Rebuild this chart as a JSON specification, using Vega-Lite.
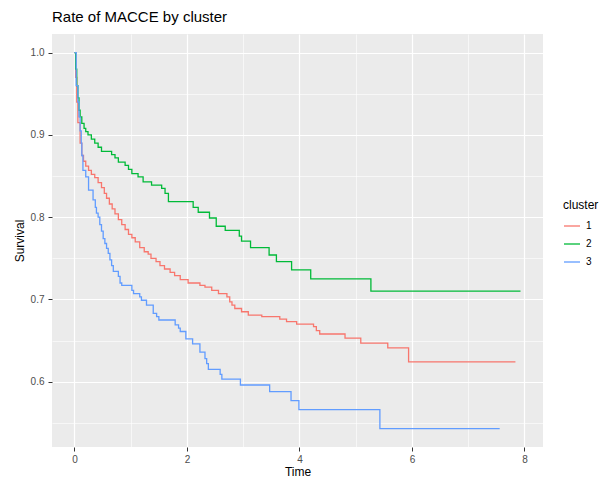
{
"$schema": "https://vega.github.io/schema/vega-lite/v6.json",
"width": 491, "height": 413,
"autosize": {"type": "none"},
"padding": {"left": 52, "top": 34, "right": 56, "bottom": 30},
"background": "white",
"title": {"text": "Rate of MACCE by cluster", "anchor": "start", "frame": "group", "fontSize": 15, "fontWeight": "normal", "font": "Liberation Sans", "color": "black", "offset": 9},
"config": {"view": {"fill": "#EBEBEB", "stroke": null}, "font": "Liberation Sans"},
"datasets": {
"surv": [
{"cluster":"1","time":0,"surv":1.0},{"cluster":"1","time":0.02,"surv":0.97},{"cluster":"1","time":0.04,"surv":0.94},{"cluster":"1","time":0.06,"surv":0.915},{"cluster":"1","time":0.1,"surv":0.89},{"cluster":"1","time":0.13,"surv":0.875},{"cluster":"1","time":0.16,"surv":0.868},{"cluster":"1","time":0.2,"surv":0.862},{"cluster":"1","time":0.25,"surv":0.857},{"cluster":"1","time":0.3,"surv":0.852},{"cluster":"1","time":0.36,"surv":0.848},{"cluster":"1","time":0.42,"surv":0.842},{"cluster":"1","time":0.48,"surv":0.836},{"cluster":"1","time":0.53,"surv":0.829},{"cluster":"1","time":0.57,"surv":0.823},{"cluster":"1","time":0.62,"surv":0.816},{"cluster":"1","time":0.67,"surv":0.81},{"cluster":"1","time":0.72,"surv":0.804},{"cluster":"1","time":0.78,"surv":0.797},{"cluster":"1","time":0.84,"surv":0.791},{"cluster":"1","time":0.9,"surv":0.785},{"cluster":"1","time":0.96,"surv":0.779},{"cluster":"1","time":1.02,"surv":0.775},{"cluster":"1","time":1.08,"surv":0.77},{"cluster":"1","time":1.16,"surv":0.763},{"cluster":"1","time":1.24,"surv":0.758},{"cluster":"1","time":1.31,"surv":0.755},{"cluster":"1","time":1.36,"surv":0.75},{"cluster":"1","time":1.45,"surv":0.746},{"cluster":"1","time":1.52,"surv":0.741},{"cluster":"1","time":1.6,"surv":0.737},{"cluster":"1","time":1.7,"surv":0.733},{"cluster":"1","time":1.78,"surv":0.729},{"cluster":"1","time":1.88,"surv":0.724},{"cluster":"1","time":2.02,"surv":0.72},{"cluster":"1","time":2.23,"surv":0.717},{"cluster":"1","time":2.32,"surv":0.715},{"cluster":"1","time":2.44,"surv":0.711},{"cluster":"1","time":2.56,"surv":0.707},{"cluster":"1","time":2.71,"surv":0.703},{"cluster":"1","time":2.76,"surv":0.697},{"cluster":"1","time":2.8,"surv":0.693},{"cluster":"1","time":2.85,"surv":0.689},{"cluster":"1","time":2.97,"surv":0.685},{"cluster":"1","time":3.09,"surv":0.681},{"cluster":"1","time":3.33,"surv":0.679},{"cluster":"1","time":3.65,"surv":0.676},{"cluster":"1","time":3.77,"surv":0.673},{"cluster":"1","time":3.95,"surv":0.67},{"cluster":"1","time":4.25,"surv":0.667},{"cluster":"1","time":4.3,"surv":0.662},{"cluster":"1","time":4.36,"surv":0.658},{"cluster":"1","time":4.81,"surv":0.653},{"cluster":"1","time":5.09,"surv":0.647},{"cluster":"1","time":5.57,"surv":0.641},{"cluster":"1","time":5.94,"surv":0.624},{"cluster":"1","time":7.84,"surv":0.624},
{"cluster":"2","time":0,"surv":1.0},{"cluster":"2","time":0.02,"surv":0.98},{"cluster":"2","time":0.04,"surv":0.96},{"cluster":"2","time":0.06,"surv":0.945},{"cluster":"2","time":0.08,"surv":0.93},{"cluster":"2","time":0.1,"surv":0.922},{"cluster":"2","time":0.13,"surv":0.914},{"cluster":"2","time":0.17,"surv":0.908},{"cluster":"2","time":0.2,"surv":0.904},{"cluster":"2","time":0.24,"surv":0.9},{"cluster":"2","time":0.3,"surv":0.895},{"cluster":"2","time":0.36,"surv":0.89},{"cluster":"2","time":0.42,"surv":0.885},{"cluster":"2","time":0.48,"surv":0.88},{"cluster":"2","time":0.66,"surv":0.876},{"cluster":"2","time":0.72,"surv":0.872},{"cluster":"2","time":0.78,"surv":0.867},{"cluster":"2","time":0.9,"surv":0.863},{"cluster":"2","time":0.96,"surv":0.858},{"cluster":"2","time":1.02,"surv":0.853},{"cluster":"2","time":1.13,"surv":0.849},{"cluster":"2","time":1.22,"surv":0.843},{"cluster":"2","time":1.37,"surv":0.839},{"cluster":"2","time":1.55,"surv":0.835},{"cluster":"2","time":1.61,"surv":0.829},{"cluster":"2","time":1.67,"surv":0.819},{"cluster":"2","time":2.11,"surv":0.812},{"cluster":"2","time":2.2,"surv":0.806},{"cluster":"2","time":2.4,"surv":0.799},{"cluster":"2","time":2.52,"surv":0.789},{"cluster":"2","time":2.68,"surv":0.784},{"cluster":"2","time":2.93,"surv":0.777},{"cluster":"2","time":2.97,"surv":0.771},{"cluster":"2","time":3.13,"surv":0.763},{"cluster":"2","time":3.46,"surv":0.754},{"cluster":"2","time":3.59,"surv":0.746},{"cluster":"2","time":3.86,"surv":0.736},{"cluster":"2","time":4.2,"surv":0.725},{"cluster":"2","time":5.27,"surv":0.71},{"cluster":"2","time":7.93,"surv":0.71},
{"cluster":"3","time":0,"surv":1.0},{"cluster":"3","time":0.03,"surv":0.96},{"cluster":"3","time":0.06,"surv":0.94},{"cluster":"3","time":0.08,"surv":0.922},{"cluster":"3","time":0.1,"surv":0.905},{"cluster":"3","time":0.12,"surv":0.89},{"cluster":"3","time":0.13,"surv":0.875},{"cluster":"3","time":0.15,"surv":0.857},{"cluster":"3","time":0.2,"surv":0.849},{"cluster":"3","time":0.25,"surv":0.833},{"cluster":"3","time":0.33,"surv":0.821},{"cluster":"3","time":0.37,"surv":0.812},{"cluster":"3","time":0.39,"surv":0.805},{"cluster":"3","time":0.42,"surv":0.8},{"cluster":"3","time":0.45,"surv":0.791},{"cluster":"3","time":0.48,"surv":0.783},{"cluster":"3","time":0.51,"surv":0.774},{"cluster":"3","time":0.54,"surv":0.768},{"cluster":"3","time":0.57,"surv":0.762},{"cluster":"3","time":0.6,"surv":0.756},{"cluster":"3","time":0.63,"surv":0.748},{"cluster":"3","time":0.66,"surv":0.741},{"cluster":"3","time":0.69,"surv":0.734},{"cluster":"3","time":0.78,"surv":0.728},{"cluster":"3","time":0.81,"surv":0.72},{"cluster":"3","time":0.84,"surv":0.717},{"cluster":"3","time":1.02,"surv":0.711},{"cluster":"3","time":1.05,"surv":0.707},{"cluster":"3","time":1.16,"surv":0.703},{"cluster":"3","time":1.19,"surv":0.699},{"cluster":"3","time":1.28,"surv":0.693},{"cluster":"3","time":1.4,"surv":0.683},{"cluster":"3","time":1.46,"surv":0.679},{"cluster":"3","time":1.5,"surv":0.675},{"cluster":"3","time":1.79,"surv":0.669},{"cluster":"3","time":1.85,"surv":0.665},{"cluster":"3","time":1.88,"surv":0.661},{"cluster":"3","time":1.98,"surv":0.652},{"cluster":"3","time":2.1,"surv":0.646},{"cluster":"3","time":2.23,"surv":0.636},{"cluster":"3","time":2.32,"surv":0.628},{"cluster":"3","time":2.35,"surv":0.622},{"cluster":"3","time":2.38,"surv":0.615},{"cluster":"3","time":2.59,"surv":0.609},{"cluster":"3","time":2.62,"surv":0.603},{"cluster":"3","time":2.95,"surv":0.596},{"cluster":"3","time":3.47,"surv":0.588},{"cluster":"3","time":3.85,"surv":0.577},{"cluster":"3","time":3.99,"surv":0.566},{"cluster":"3","time":5.43,"surv":0.543},{"cluster":"3","time":7.56,"surv":0.543}
]
},
"data": {"name": "surv"},
"mark": {"type": "line", "interpolate": "step-after", "strokeWidth": 1.3},
"encoding": {
"x": {"field": "time", "type": "quantitative", "scale": {"domain": [-0.4, 8.33], "nice": false, "zero": false},
 "axis": {"title": "Time", "values": [0,1,2,3,4,5,6,7,8], "labelExpr": "datum.value % 2 === 0 ? datum.label : ''", "domain": false, "tickColor": "#333333", "tickSize": 4, "tickOpacity": {"condition": {"test": "datum.value % 2 === 0", "value": 1}, "value": 0}, "gridColor": "white", "gridOpacity": 1, "gridWidth": {"condition": {"test": "datum.value % 2 === 0", "value": 1.2}, "value": 0.6}, "labelColor": "#4D4D4D", "labelFontSize": 10, "labelPadding": 3, "labelFlush": false, "labelOverlap": false, "titleFontSize": 12, "titleFontWeight": "normal", "titleColor": "black", "titlePadding": 2}},
"y": {"field": "surv", "type": "quantitative", "scale": {"domain": [0.5206, 1.0227], "nice": false, "zero": false},
 "axis": {"title": "Survival", "values": [0.55,0.6,0.65,0.7,0.75,0.8,0.85,0.9,0.95,1.0], "format": ".1f", "labelExpr": "round(datum.value*100) % 10 === 0 ? datum.label : ''", "domain": false, "tickColor": "#333333", "tickSize": 4, "tickOpacity": {"condition": {"test": "round(datum.value*100) % 10 === 0", "value": 1}, "value": 0}, "gridColor": "white", "gridOpacity": 1, "gridWidth": {"condition": {"test": "round(datum.value*100) % 10 === 0", "value": 1.2}, "value": 0.6}, "labelColor": "#4D4D4D", "labelFontSize": 10, "labelPadding": 4, "labelFlush": false, "labelOverlap": false, "titleFontSize": 12, "titleFontWeight": "normal", "titleColor": "black", "titlePadding": 4}},
"color": {"field": "cluster", "type": "nominal", "scale": {"domain": ["1","2","3"], "range": ["#F8766D","#00BA38","#619CFF"]},
 "legend": {"title": "cluster", "orient": "none", "legendX": 511, "legendY": 166, "padding": 0, "titleFontSize": 12, "titleFontWeight": "normal", "titleColor": "black", "titlePadding": 5, "labelFontSize": 10, "labelColor": "black", "labelOffset": 5, "symbolType": "stroke", "symbolSize": 256, "symbolStrokeWidth": 1.3, "rowPadding": 4}}
}
}
